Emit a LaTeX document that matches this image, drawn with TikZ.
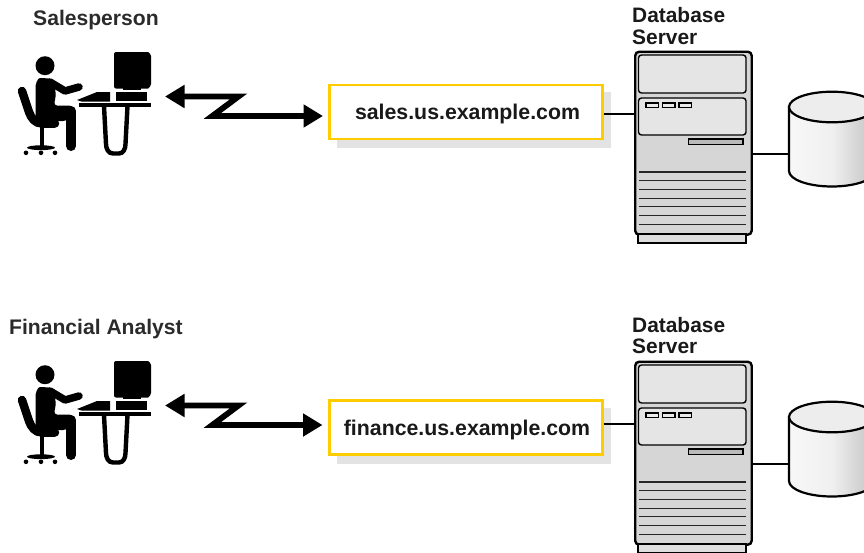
\documentclass[tikz,border=0pt]{standalone}
\usepackage{fontspec}
\setmainfont{Liberation Sans}
\usetikzlibrary{arrows.meta,calc}
\definecolor{boxyellow}{HTML}{FFCC00}
\definecolor{shadowgrey}{HTML}{E3E3E3}
\definecolor{labelgrey}{HTML}{2B2B2B}
\tikzset{
  lbl/.style={font=\fontsize{21.1}{24}\selectfont\bfseries,text=labelgrey,anchor=base west,inner sep=0pt},
  srvlbl/.style={lbl,font=\fontsize{20.9}{24}\selectfont\bfseries,text=black!90},
  hostbox/.style={draw=boxyellow,line width=2.6pt,fill=white,minimum width=272.5pt,minimum height=54pt,inner sep=0pt,text height=20pt,text depth=4.4pt,font=\fontsize{21.3}{24}\selectfont\bfseries,text=black!90},
  link/.style={draw=black,line width=2.2pt},
  zig/.style={draw=black,line width=5.8pt,miter limit=12,{Triangle[length=19.5pt,width=22pt]}-{Triangle[length=19.5pt,width=22pt]}},
  srvbody/.style={draw=black,line width=2.4pt,rounded corners=4pt,fill=black!16,minimum width=116.5pt,minimum height=183pt,inner sep=0pt},
  panel/.style={draw=black,line width=1.4pt,fill=black!10,rounded corners=3pt},
  vent/.style={draw=black!85,line width=1.1pt},
  led/.style={draw=black,line width=1.1pt,fill=black!8},
  dbside/.style={draw=black,line width=2.2pt}
}
\newcommand{\workstation}{%
  \fill (45,65.7) circle (9.5);
  % torso
  \fill[rounded corners=3pt] (35.5,90) to[out=90,in=180] (43,78) -- (53,79) -- (56,94) -- (54,105.5) -- (72,105.5)
     -- (76,112) -- (66,121) -- (43,121)
     to[out=180,in=-90] (35.5,113) -- cycle;
  % arm
  \draw[line width=7.5pt,line cap=round,line join=round] (50,82) -- (65,91) -- (79,87);
  % lower leg
  \draw[line width=10pt,line cap=round] (71,111) -- (71,146);
  % chair
  \draw[line width=8.5pt,line cap=round,line join=round] (22,91) -- (29,112) to[out=-70,in=180] (42,123.5) -- (55,123.5);
  \fill (39.5,126) rectangle (43.5,146);
  \fill (41,147.7) ellipse (14 and 2.4);
  \foreach \cx in {26,41,55} \fill (\cx,152.8) circle (2.3);
  % computer
  \fill[rounded corners=2pt] (114,52) -- (146,52) to[out=0,in=90] (151,58) -- (151,82) to[out=-90,in=0] (146,88.5) -- (114,88.5) -- cycle;
  \fill (123,88) rectangle (141,90.3);
  \fill (116,91.7) rectangle (147,101);
  \fill (77,100) -- (97,92) -- (110,92) -- (110,101.7) -- (82,101.7) -- cycle;
  \fill (79,103.3) rectangle (150.5,106.7);
  \draw[line width=4.4pt] (104,106) -- (106,144) to[out=-90,in=180] (113,153.5) -- (119,153.5) to[out=0,in=-90] (125.5,144) -- (127.5,106);
}
\newcommand{\datacentre}[1]{%
  \node[srvbody,anchor=north west] (srv#1) at (634,50.5) {};
  \draw[draw=black,line width=2pt,fill=black!13] (638,234) rectangle (746,243);
  \draw[panel] (638.5,55) rectangle (746,93);
  \draw[panel] (638.5,98) rectangle (746,135);
  \foreach \lx in {646,662.5,679} \draw[led] (\lx,103) rectangle ++(12.5,4.5);
  \draw[draw=black,line width=1.8pt,fill=black!27] (688.5,139) rectangle (743,144.5);
  \foreach \vy in {172,180.7,189.4,198.1,206.9,215.8,224.6} \draw[vent] (638.5,\vy) -- (746,\vy);
  \coordinate (srvport#1) at (634,114);
  \coordinate (srvback#1) at (751,154);
  \coordinate (dbport#1) at (789,154);
  \draw[dbside,left color=black!3,right color=black!24,middle color=black!6] (789,107) -- (789,171) arc[start angle=180,end angle=0,x radius=43,y radius=15.5] -- (875,107) -- cycle;
  \draw[dbside,fill=black!7] (832,107) ellipse (43 and 15.3);
  \draw[link] (srvback#1) -- (dbport#1);
}
\begin{document}
\begin{tikzpicture}[x=1pt,y=-1pt]
\useasboundingbox (0,0) rectangle (864,552);
\clip (0,0) rectangle (864,552);
% first row
\node[lbl] (who1) at (33,25) {Salesperson};
\workstation
\coordinate (pc1) at (165,96.5);
\datacentre{1}
\node[srvlbl] (dbt1) at (632,22) {Database};
\node[srvlbl] (dbs1) at (632,44) {Server};
\fill[shadowgrey] (337,92) rectangle (610.5,148);
\node[hostbox] (host1) at (466,112) {\hspace*{3pt}sales.us.example.com};
\draw[link] (host1.east|-srvport1) -- (srvport1);
\coordinate (end1) at (323,116);
\draw[zig] (pc1) -- (238.5,96.5) -- (212.3,116) -- (end1);
% second row
\node[lbl] (who2) at (9,334) {Financial Analyst};
\begin{scope}[yshift=-309pt]
\workstation
\end{scope}
\coordinate (pc2) at (165,405.5);
\begin{scope}[yshift=-310pt]
\datacentre{2}
\end{scope}
\node[srvlbl] (dbt2) at (632,332) {Database};
\node[srvlbl] (dbs2) at (632,353.5) {Server};
\fill[shadowgrey] (337,407.5) rectangle (610.5,463.5);
\node[hostbox] (host2) at (466,427.5) {\hspace*{2pt}finance.us.example.com};
\draw[link] (host2.east|-srvport2) -- (srvport2);
\coordinate (end2) at (322.5,425);
\draw[zig] (pc2) -- (238.5,405.5) -- (212.3,425) -- (end2);
\end{tikzpicture}
\end{document}
